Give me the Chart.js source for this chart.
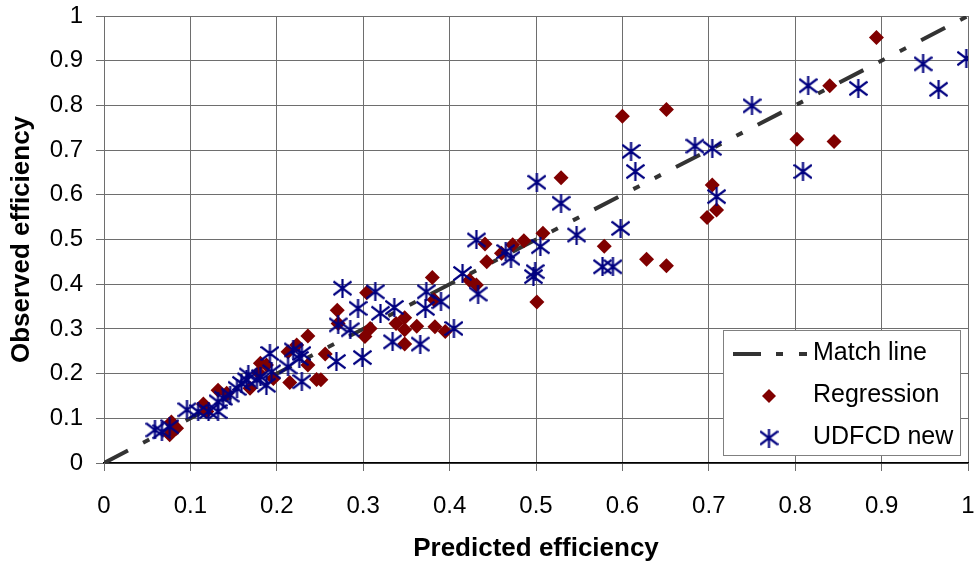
<!DOCTYPE html>
<html>
<head>
<meta charset="utf-8">
<title>Observed vs predicted efficiency</title>
<script src="https://cdn.jsdelivr.net/npm/chart.js@4/dist/chart.umd.min.js"></script>
<style>
  body { margin: 0; background: #fff; }
  #wrap { width: 979px; height: 569px; }
</style>
</head>
<body>
<div id="wrap"><canvas id="myChart" width="979" height="569"></canvas></div>
<script>
// values
var matchX = [0, 1];
var matchY = [0, 1];

var regX = [0.894, 0.840, 0.600, 0.651, 0.802, 0.845, 0.704, 0.709, 0.698, 0.579, 0.628, 0.651,
            0.529, 0.508, 0.486, 0.473, 0.460, 0.441, 0.443, 0.423, 0.431, 0.380, 0.501, 0.382,
            0.304, 0.270, 0.271, 0.308, 0.302, 0.338, 0.348, 0.348, 0.362, 0.383, 0.395, 0.348,
            0.236, 0.213, 0.256, 0.236, 0.181, 0.188, 0.215, 0.246, 0.251, 0.223,
            0.080, 0.084, 0.076, 0.078, 0.115, 0.119, 0.132, 0.142, 0.169, 0.196, 0.179];
var regY = [0.952, 0.844, 0.776, 0.791, 0.724, 0.719, 0.622, 0.566, 0.549, 0.485, 0.456, 0.441,
            0.638, 0.514, 0.497, 0.488, 0.469, 0.490, 0.450, 0.409, 0.398, 0.415, 0.360, 0.365,
            0.381, 0.342, 0.312, 0.301, 0.283, 0.312, 0.325, 0.298, 0.306, 0.305, 0.294, 0.266,
            0.284, 0.249, 0.244, 0.219, 0.223, 0.219, 0.180, 0.187, 0.186, 0.264,
            0.085, 0.078, 0.063, 0.092, 0.132, 0.115, 0.163, 0.156, 0.167, 0.189, 0.202];

var udX = [0.948, 0.998, 0.966, 0.815, 0.873, 0.750, 0.684, 0.704, 0.610, 0.615, 0.809, 0.709,
           0.598, 0.577, 0.589, 0.547,
           0.501, 0.529, 0.431, 0.465, 0.471, 0.505, 0.415, 0.499, 0.497, 0.433, 0.373, 0.390, 0.372,
           0.276, 0.314, 0.294, 0.320, 0.336, 0.271, 0.285, 0.405, 0.334, 0.366,
           0.192, 0.219, 0.229, 0.213, 0.226, 0.269, 0.299, 0.229, 0.181,
           0.059, 0.067, 0.076, 0.096, 0.109, 0.121, 0.132, 0.132, 0.138, 0.146, 0.154, 0.159,
           0.165, 0.167, 0.177, 0.188, 0.194];
var udY = [0.893, 0.905, 0.836, 0.844, 0.838, 0.799, 0.709, 0.704, 0.697, 0.652, 0.652, 0.596,
           0.525, 0.439, 0.439, 0.510,
           0.628, 0.581, 0.499, 0.473, 0.458, 0.484, 0.424, 0.428, 0.417, 0.378, 0.383, 0.361, 0.346,
           0.391, 0.383, 0.346, 0.335, 0.348, 0.309, 0.298, 0.301, 0.271, 0.266,
           0.245, 0.253, 0.245, 0.215, 0.234, 0.227, 0.236, 0.182, 0.193,
           0.074, 0.070, 0.081, 0.119, 0.115, 0.115, 0.115, 0.137, 0.145, 0.152, 0.167, 0.178,
           0.186, 0.197, 0.186, 0.174, 0.204];

var xTickLabels = ['0', '0.1', '0.2', '0.3', '0.4', '0.5', '0.6', '0.7', '0.8', '0.9', '1'];
var yTickLabels = ['0', '0.1', '0.2', '0.3', '0.4', '0.5', '0.6', '0.7', '0.8', '0.9', '1'];
var seriesNames = ['Match line', 'Regression', 'UDFCD new'];

var FONT = "'Liberation Sans', Arial, sans-serif";
var lineDash = [27, 17, 7, 17, 7, 17];

function toPoints(xs, ys) {
	var pts = [];
	for (var i = 0; i < xs.length; i++) {
		pts.push({ x: xs[i], y: ys[i] });
	}
	return pts;
}

// excel style star: an X with a vertical bar
function makeStar(size) {
	var c = document.createElement('canvas');
	c.width = size;
	c.height = size;
	var g = c.getContext('2d');
	g.strokeStyle = '#000080';
	g.lineWidth = 2.2;
	var m = size / 2;
	g.beginPath();
	g.moveTo(m, 0);
	g.lineTo(m, size);
	g.moveTo(0.5, size * 0.14);
	g.lineTo(size - 0.5, size * 0.86);
	g.moveTo(0.5, size * 0.86);
	g.lineTo(size - 0.5, size * 0.14);
	g.stroke();
	return c;
}
var star = makeStar(19);

// fixed plot box, no extra room for overhanging labels
function fixBox(scale, w, h) {
	if (w) scale.width = w;
	if (h) scale.height = h;
	scale.paddingTop = 0;
	scale.paddingBottom = 0;
	scale.paddingLeft = 0;
	scale.paddingRight = 0;
}

var legendBox = {
	id: 'legendBox',
	afterDraw: function (chart) {
		var ctx = chart.ctx;
		ctx.save();
		ctx.fillStyle = '#fff';
		ctx.fillRect(723, 330, 238, 126);
		ctx.strokeStyle = '#808080';
		ctx.lineWidth = 1;
		ctx.strokeRect(723.5, 330.5, 237, 125);

		// match line symbol
		ctx.strokeStyle = '#333';
		ctx.lineWidth = 4;
		ctx.beginPath();
		ctx.moveTo(733, 354); ctx.lineTo(761, 354);
		ctx.moveTo(776, 354); ctx.lineTo(783, 354);
		ctx.moveTo(799, 354); ctx.lineTo(807, 354);
		ctx.stroke();

		// diamond
		ctx.fillStyle = '#800000';
		ctx.beginPath();
		ctx.moveTo(769, 389); ctx.lineTo(776, 396); ctx.lineTo(769, 403); ctx.lineTo(762, 396);
		ctx.closePath();
		ctx.fill();

		ctx.drawImage(star, 759.5, 428.5);

		ctx.fillStyle = '#000';
		ctx.font = '25px ' + FONT;
		ctx.textAlign = 'left';
		ctx.textBaseline = 'alphabetic';
		ctx.fillText(seriesNames[0], 813, 360);
		ctx.fillText(seriesNames[1], 813, 402);
		ctx.fillText(seriesNames[2], 813, 444);
		ctx.restore();
	}
};

var ctx = document.getElementById('myChart').getContext('2d');
var myChart = new Chart(ctx, {
	type: 'scatter',
	data: {
		datasets: [{
			label: seriesNames[0],
			data: toPoints(matchX, matchY),
			showLine: true,
			borderColor: '#333',
			borderWidth: 4,
			borderDash: lineDash,
			pointRadius: 0,
			order: 3
		}, {
			label: seriesNames[1],
			data: toPoints(regX, regY),
			pointStyle: 'rectRot',
			pointRadius: 7.5,
			pointBackgroundColor: '#800000',
			pointBorderColor: '#800000',
			pointBorderWidth: 0,
			order: 2
		}, {
			label: seriesNames[2],
			data: toPoints(udX, udY),
			pointStyle: star,
			pointRadius: 9,
			order: 1
		}]
	},
	options: {
		responsive: false,
		animation: false,
		layout: { padding: { top: 16, right: 11, left: 0, bottom: 0 } },
		plugins: {
			legend: { display: false },
			tooltip: { enabled: false }
		},
		scales: {
			x: {
				type: 'linear',
				min: 0,
				max: 1,
				afterFit: function (scale) { fixBox(scale, 0, 106); },
				ticks: {
					stepSize: 0.1,
					padding: 21,
					color: '#000',
					font: { family: FONT, size: 24 },
					maxRotation: 0,
					callback: function (v, i) { return xTickLabels[i]; }
				},
				grid: { color: '#6e6e6e', lineWidth: 1, tickLength: 8 },
				border: { color: '#000', width: 1.5 },
				title: {
					display: true,
					text: 'Predicted efficiency',
					color: '#000',
					font: { family: FONT, size: 26, weight: 'bold' },
					padding: { top: 0, bottom: 5 }
				}
			},
			y: {
				type: 'linear',
				min: 0,
				max: 1,
				afterFit: function (scale) { fixBox(scale, 104, 0); },
				ticks: {
					stepSize: 0.1,
					padding: 13,
					color: '#000',
					font: { family: FONT, size: 24 },
					callback: function (v, i) { return yTickLabels[i]; }
				},
				grid: { color: '#6e6e6e', lineWidth: 1, tickLength: 8 },
				border: { color: '#6e6e6e', width: 1 },
				title: {
					display: true,
					text: 'Observed efficiency',
					color: '#000',
					font: { family: FONT, size: 26, weight: 'bold' },
					padding: { top: 6, bottom: 0 }
				}
			}
		}
	},
	plugins: [legendBox]
});
</script>
</body>
</html>
